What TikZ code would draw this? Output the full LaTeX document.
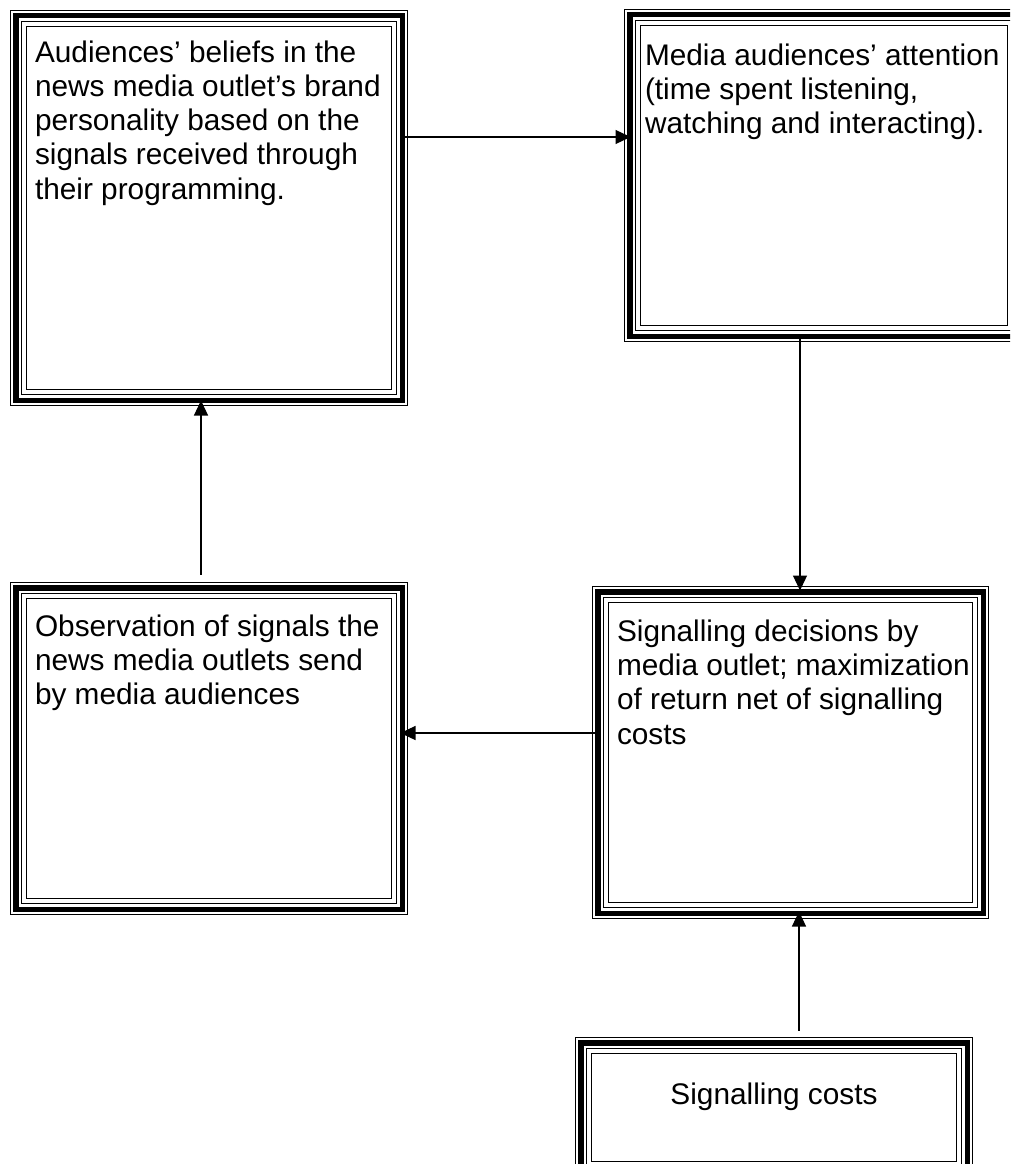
\documentclass[tikz,border=0pt]{standalone}
\usepackage{fontspec}
\setmainfont{Liberation Sans}
\usetikzlibrary{arrows.meta,calc}

\tikzset{
  % rectangle with a thin-thick-thin-thin border, as in a Word text box
  tribox/.style={
    draw, line width=1.1pt, rectangle, inner sep=0pt, outer sep=0pt, anchor=north west,
    path picture={
      \draw[line width=5.2pt]
        ([shift={(5.4,-5.4)}]path picture bounding box.north west) rectangle
        ([shift={(-5.4,5.4)}]path picture bounding box.south east);
      \draw[line width=1.5pt]
        ([shift={(11,-11)}]path picture bounding box.north west) rectangle
        ([shift={(-11,11)}]path picture bounding box.south east);
      \draw[line width=1.5pt]
        ([shift={(16,-16)}]path picture bounding box.north west) rectangle
        ([shift={(-16,16)}]path picture bounding box.south east);
    }
  },
  boxtext/.style={inner sep=0pt, outer sep=0pt, align=left, anchor=north west,
    font=\fontsize{29.8}{34.3}\selectfont},
  arr/.style={line width=1.3pt, -{Triangle[length=15pt,width=14pt]}},
}

\begin{document}
\begin{tikzpicture}[x=1pt,y=1pt]
  \useasboundingbox (0,0) rectangle (1010,-1164);
  \clip (0,0) rectangle (1010,-1164);
  \fill[white] (0,0) rectangle (1010,-1164);

  % boxes
  \node[tribox, minimum width=397pt, minimum height=395pt] (A) at (10.5,-10.5) {};
  \node[tribox, minimum width=399pt, minimum height=332pt] (B) at (624.5,-9.5) {};
  \node[tribox, minimum width=397pt, minimum height=332pt] (C) at (10.5,-582.5) {};
  \node[tribox, minimum width=396pt, minimum height=332pt] (D) at (592.5,-586.5) {};
  \node[tribox, minimum width=397pt, minimum height=140pt] (E) at (575.5,-1037.5) {};

  % texts (first line's top placed below the box top)
  \node[boxtext] (tA) at ([shift={(24.5,-30)}]A.north west)
    {Audiences’ beliefs in the\\news media outlet’s brand\\personality based on the\\signals received through\\their programming.};
  \node[boxtext] (tB) at ([shift={(20.5,-34)}]B.north west)
    {Media audiences’ attention\\(time spent listening,\\watching and interacting).};
  \node[boxtext] (tC) at ([shift={(24.5,-32)}]C.north west)
    {Observation of signals the\\news media outlets send\\by media audiences};
  \node[boxtext] (tD) at ([shift={(24.5,-33)}]D.north west)
    {Signalling decisions by\\media outlet; maximization\\of return net of signalling\\costs};
  \node[boxtext, anchor=base] (tE) at ([yshift=-66.5]E.north)
    {Signalling costs};

  % connectors
  \draw[arr] ([shift={(-6,-126.5)}]A.north east) -- ([shift={(6,-126.5)}]A.north east -| B.west);
  \draw[arr] ([shift={(175.5,4)}]B.south west) -- ([shift={(175.5,-4)}]B.south west |- D.north);
  \draw[arr] ([shift={(6,-146.5)}]D.north west) -- ([shift={(-7,-146.5)}]D.north west -| C.east);
  \draw[arr] ([shift={(190.5,8)}]C.north west) -- ([shift={(190.5,5)}]C.north west |- A.south);
  \draw[arr] ([shift={(223.5,7)}]E.north west) -- ([shift={(223.5,7)}]E.north west |- D.south);
\end{tikzpicture}
\end{document}
